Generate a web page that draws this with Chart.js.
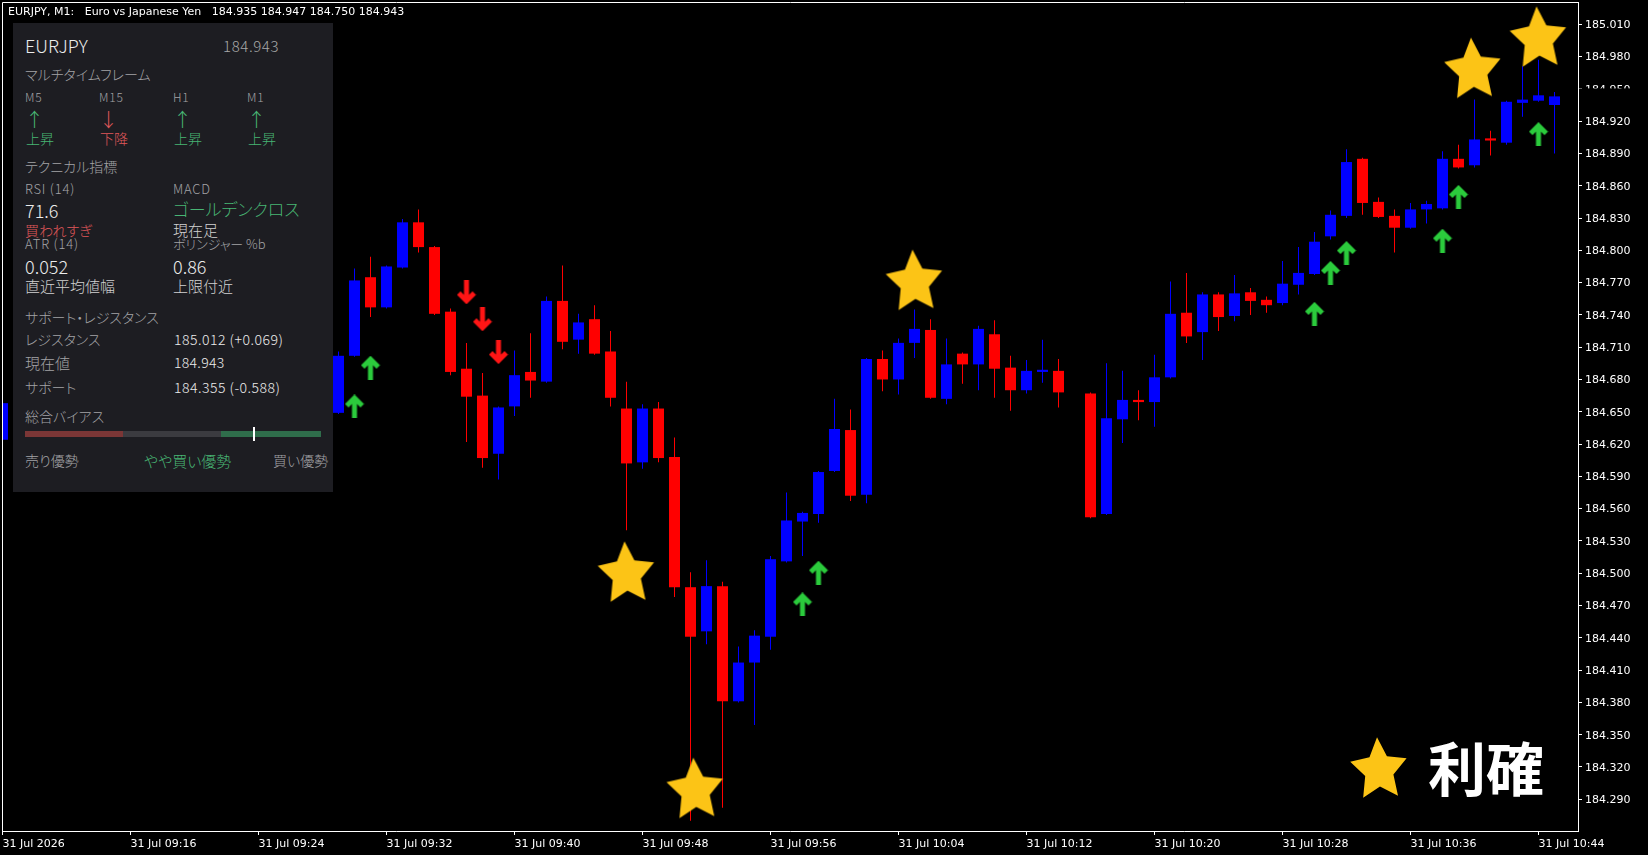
<!DOCTYPE html>
<html>
<head>
<meta charset="utf-8">
<script src="https://cdn.jsdelivr.net/npm/chart.js"></script>
<style>
html,body{margin:0;padding:0;background:#000;overflow:hidden}
#wrap{position:relative;width:1648px;height:855px;background:#000}
#c{position:absolute;left:0;top:0}
#panel{position:absolute;left:13px;top:23px;width:320px;height:469px;background:#1d1d22}
.t{position:absolute;white-space:pre;line-height:1}
.seg{position:absolute}
</style>
</head>
<body>
<div id="wrap">
<canvas id="c" width="1648" height="855"></canvas>
<div id="panel"></div>
<div id="over"></div>
</div>
<script>
// ---------------- data ----------------
const barMinute = [0,
  21,22,23,24,25,26,27,28,29,30,
  31,32,33,34,35,36,37,38,39,40,
  41,42,43,44,45,46,47,48,49,50,
  51,52,53,54,55,56,57,58,59,60,
  61,62,63,64,65,66,68,69,70,71,
  72,73,74,75,76,77,78,79,80,81,
  82,83,84,85,86,87,88,89,90,91,
  92,93,94,95,96,97];
const openP = [184.624,
  184.649,184.702,184.775,184.747,184.784,184.826,184.803,184.743,184.690,184.665,
  184.611,184.655,184.687,184.678,184.753,184.717,184.736,184.706,184.653,184.603,
  184.653,184.608,184.487,184.446,184.488,184.381,184.417,184.441,184.511,184.548,
  184.555,184.595,184.633,184.573,184.699,184.680,184.714,184.726,184.662,184.704,
  184.694,184.722,184.691,184.670,184.687,184.688,184.667,184.555,184.643,184.661,
  184.659,184.682,184.742,184.724,184.759,184.739,184.761,184.754,184.751,184.768,
  184.778,184.813,184.832,184.885,184.845,184.832,184.821,184.838,184.839,184.885,
  184.879,184.904,184.900,184.937,184.939,184.935];
const highP = [184.659,
  184.706,184.783,184.794,184.786,184.829,184.838,184.804,184.746,184.714,184.686,
  184.655,184.707,184.723,184.757,184.786,184.741,184.749,184.725,184.678,184.657,
  184.659,184.626,184.501,184.512,184.492,184.432,184.447,184.516,184.575,184.557,
  184.595,184.662,184.652,184.700,184.707,184.718,184.745,184.736,184.718,184.705,
  184.730,184.735,184.702,184.698,184.717,184.699,184.668,184.695,184.688,184.670,
  184.703,184.771,184.779,184.761,184.761,184.777,184.765,184.757,184.790,184.803,
  184.817,184.837,184.894,184.886,184.849,184.838,184.844,184.846,184.892,184.898,
  184.940,184.911,184.939,184.971,184.977,184.947];
const lowP = [184.623,
  184.648,184.701,184.738,184.746,184.783,184.798,184.740,184.684,184.622,184.598,
  184.587,184.646,184.663,184.677,184.708,184.704,184.703,184.655,184.540,184.597,
  184.603,184.478,184.270,184.434,184.282,184.380,184.359,184.429,184.510,184.516,
  184.547,184.594,184.567,184.565,184.669,184.666,184.700,184.662,184.657,184.676,
  184.670,184.663,184.651,184.667,184.677,184.654,184.551,184.554,184.621,184.642,
  184.636,184.681,184.714,184.698,184.725,184.734,184.740,184.742,184.749,184.759,
  184.777,184.810,184.830,184.833,184.830,184.798,184.820,184.825,184.838,184.876,
  184.877,184.888,184.898,184.924,184.938,184.890];
const closeP = [184.658,
  184.702,184.772,184.747,184.785,184.826,184.803,184.741,184.687,184.664,184.607,
  184.654,184.684,184.679,184.753,184.715,184.733,184.704,184.663,184.602,184.653,
  184.607,184.487,184.441,184.488,184.381,184.417,184.442,184.513,184.549,184.556,
  184.594,184.634,184.572,184.699,184.680,184.714,184.727,184.663,184.694,184.694,
  184.727,184.690,184.670,184.688,184.689,184.668,184.552,184.644,184.661,184.659,
  184.682,184.741,184.720,184.759,184.738,184.760,184.753,184.749,184.769,184.779,
  184.808,184.833,184.882,184.844,184.831,184.821,184.838,184.843,184.885,184.877,
  184.903,184.902,184.938,184.940,184.944,184.943];

const tickMinute = [0,8,16,24,32,40,48,56,64,72,80,88,96];
const tickText = ['31 Jul 2026','31 Jul 09:16','31 Jul 09:24','31 Jul 09:32','31 Jul 09:40',
  '31 Jul 09:48','31 Jul 09:56','31 Jul 10:04','31 Jul 10:12','31 Jul 10:20',
  '31 Jul 10:28','31 Jul 10:36','31 Jul 10:44'];
const priceTicks = [184.290,184.320,184.350,184.380,184.410,184.440,184.470,184.500,184.530,
  184.560,184.590,184.620,184.650,184.680,184.710,184.740,184.770,184.800,184.830,184.860,
  184.890,184.920,184.950,184.980,185.010];

const buyArrowMinute = [22,23,50,51,82,83,84,90,91,96];
const buyArrowPrice  = [184.655,184.691,184.471,184.5005,184.741,184.779,184.7975,184.809,184.8496,184.908];
const sellArrowMinute = [29,30,31];
const sellArrowPrice  = [184.761,184.736,184.7055];
const starMinute = [39,43.3,57,91.9,96];
const starPrice  = [184.502,184.301,184.773,184.970,184.999];

const titleText = 'EURJPY, M1:  Euro vs Japanese Yen  184.935 184.947 184.750 184.943';
const lastPrice = 184.943;

// ---------------- glyph images ----------------
function makeArrow(color, down){
  const c = document.createElement('canvas'); c.width = 20; c.height = 24;
  const g = c.getContext('2d');
  if (down){ g.translate(0,24); g.scale(1,-1); }
  const pts = [[10,0],[19.5,9.5],[16,13],[12.5,9.5],[12.5,24],[7.5,24],[7.5,9.5],[4,13],[0.5,9.5]];
  g.fillStyle = color; g.beginPath();
  pts.forEach((p,i)=> i? g.lineTo(p[0],p[1]) : g.moveTo(p[0],p[1]));
  g.closePath(); g.fill();
  return c;
}
function makeStar(){
  const W = 62, H = 64, R = 33, r = R*0.5;
  const c = document.createElement('canvas'); c.width = W; c.height = H;
  const g = c.getContext('2d');
  const cx = W/2, cy = H/2 + 0.0955*R;
  g.translate(cx, cy); g.rotate(-0.06);
  g.fillStyle = '#fcc416'; g.beginPath();
  for (let k=0;k<10;k++){
    const a = -Math.PI/2 + k*Math.PI/5, rad = k%2 ? r : R;
    const x = Math.cos(a)*rad*0.9, y = Math.sin(a)*rad;
    k ? g.lineTo(x,y) : g.moveTo(x,y);
  }
  g.closePath(); g.fill();
  return c;
}
const upArrowImg = makeArrow('#2bcb3c', false);
const downArrowImg = makeArrow('#ff1515', true);
const starImg = makeStar();

// ---------------- chart ----------------
const candleColor = barMinute.map((m,i)=> closeP[i] >= openP[i] ? '#0000ff' : '#ff0000');
const bodyData = barMinute.map((m,i)=>({x:m, y:[openP[i], closeP[i]]}));
const wickData = barMinute.map((m,i)=>({x:m, y:[lowP[i], highP[i]]}));

const framePlugin = {
  id:'frame',
  afterDraw(chart){
    const {ctx, chartArea:a, scales} = chart;
    ctx.save();
    const yp = scales.y.getPixelForValue(lastPrice);
    ctx.fillStyle = '#000';
    ctx.fillRect(a.right+1, yp-8, 1648-a.right, 17);
    ctx.strokeStyle = '#fff'; ctx.lineWidth = 1;
    ctx.beginPath();
    ctx.moveTo(a.left+0.5, a.bottom+0.5); ctx.lineTo(a.left+0.5, a.top+0.5); ctx.lineTo(a.right+0.5, a.top+0.5);
    ctx.stroke();
    ctx.fillStyle = '#fff'; ctx.font = '11px "DejaVu Sans"'; ctx.textBaseline = 'middle';
    ctx.fillText(titleText.replace(/  /g,'   '), 8, 12);
    ctx.drawImage(starImg, 1379 - starImg.width/2, 767 - starImg.height/2);
    ctx.restore();
  }
};

new Chart(document.getElementById('c'), {
  type:'bar',
  data:{ datasets:[
    {type:'scatter', label:'star', data: starMinute.map((m,i)=>({x:m,y:starPrice[i]})),
      pointStyle: starImg, pointRadius: 10, order:0},
    {type:'scatter', label:'buy', data: buyArrowMinute.map((m,i)=>({x:m,y:buyArrowPrice[i]})),
      pointStyle: upArrowImg, pointRadius: 6, order:1},
    {type:'scatter', label:'sell', data: sellArrowMinute.map((m,i)=>({x:m,y:sellArrowPrice[i]})),
      pointStyle: downArrowImg, pointRadius: 6, order:1},
    {type:'bar', label:'body', data: bodyData, backgroundColor: candleColor, barThickness: 11,
      grouped:false, minBarLength:1, borderWidth:0, inflateAmount:0, order:2},
    {type:'bar', label:'wick', data: wickData, backgroundColor: candleColor, barThickness: 1,
      grouped:false, borderWidth:0, inflateAmount:0, order:3}
  ]},
  options:{
    responsive:false, maintainAspectRatio:false, animation:false, events:[],
    layout:{autoPadding:false, padding:{left:2, top:2, right:0, bottom:0}},
    plugins:{legend:{display:false}, tooltip:{enabled:false}},
    scales:{
      x:{type:'linear', min:-0.03125, max:98.46875, offset:false,
        grid:{display:true, offset:false, drawOnChartArea:false, drawTicks:true, tickLength:4, color:'#fff'},
        border:{display:true, color:'#fff'},
        ticks:{color:'#fff', font:{family:'DejaVu Sans', size:11}, padding:3, align:'start',
          autoSkip:false, maxRotation:0, minRotation:0,
          callback:(v,i)=> tickText[i]},
        afterBuildTicks:s=>{ s.ticks = tickMinute.map(v=>({value:v})); },
        afterFit:s=>{ s.height = 24; s.paddingLeft = 0; s.paddingRight = 0; }
      },
      y:{type:'linear', position:'right', min:184.2605, max:185.0307,
        grid:{display:true, drawOnChartArea:false, drawTicks:true, tickLength:4, color:'#fff'},
        border:{display:true, color:'#fff'},
        ticks:{color:'#fff', font:{family:'DejaVu Sans', size:11}, padding:3, labelOffset:1,
          callback:v=> Number(v).toFixed(3)},
        afterBuildTicks:s=>{ s.ticks = priceTicks.map(v=>({value:v})); },
        afterFit:s=>{ s.width = 70; s.paddingTop = 0; s.paddingBottom = 0; }
      }
    }
  },
  plugins:[framePlugin]
});

// ---------------- info panel (text) ----------------
const over = document.getElementById('over');
const JP = '"Noto Sans CJK JP","Noto Sans",sans-serif';
function txt(s, x, cy, size, color, o={}){
  const e = document.createElement('div');
  e.className = 't'; e.textContent = s;
  e.style.fontFamily = o.fam || JP;
  e.style.fontSize = size+'px';
  e.style.fontWeight = o.w || 300;
  e.style.color = color;
  if (o.ls) e.style.letterSpacing = o.ls+'px';
  if (o.palt !== false) e.style.fontFeatureSettings = '"palt"';
  e.style.top = (cy - (o.k || 0.56)*size)+'px';
  e.style.left = '0px';
  over.appendChild(e);
  let left = x;
  if (o.align === 'right') left = x - e.offsetWidth;
  else if (o.align === 'center') left = x - e.offsetWidth/2;
  e.style.left = left+'px';
  return e;
}
function seg(x,y,w,h,c){
  const e = document.createElement('div'); e.className='seg';
  Object.assign(e.style,{left:x+'px',top:y+'px',width:w+'px',height:h+'px',background:c});
  over.appendChild(e);
}
const GRAY = '#a3a3a6', WHITE = '#ececec', LIGHT = '#d2d2d2', GREEN = '#48b574', RED = '#e0585a';

txt('EURJPY', 25, 45.8, 18, WHITE);
txt('184.943', 223, 46.5, 15, '#a8a8a8', {ls:0.6});
txt('マルチタイムフレーム', 25, 75.3, 14, GRAY);
const tfName = ['M5','M15','H1','M1'];
const tfX = [25, 99, 173, 247];
const tfUp = [true, false, true, true];
tfName.forEach((n,i)=>{
  txt(n, tfX[i], 97.8, 12, GRAY, {ls:0.8});
  txt(tfUp[i] ? '↑' : '↓', tfX[i]+9.5, 120, 19, tfUp[i] ? GREEN : RED, {align:'center', palt:false});
  txt(tfUp[i] ? '上昇' : '下降', tfX[i]+1, 138.7, 14, tfUp[i] ? GREEN : RED);
});
txt('テクニカル指標', 25, 166.7, 14, GRAY);
txt('RSI (14)', 25, 189, 13, GRAY, {ls:0.8});
txt('MACD', 173, 189, 13, GRAY, {ls:0.8});
txt('71.6', 25, 210.8, 18, WHITE);
txt('ゴールデンクロス', 173, 210, 17, GREEN);
txt('買われすぎ', 25, 230.7, 14, RED);
txt('現在足', 173, 230.5, 15, LIGHT);
txt('ATR (14)', 25, 244.5, 13, GRAY, {ls:0.8});
txt('ボリンジャー %b', 173, 244.5, 13, GRAY);
txt('0.052', 25, 267, 18, WHITE);
txt('0.86', 173, 267, 18, WHITE);
txt('直近平均値幅', 25, 286.7, 15, LIGHT);
txt('上限付近', 173, 286.7, 15, LIGHT);
txt('サポート・レジスタンス', 25, 317.5, 14, GRAY);
txt('レジスタンス', 25, 340, 14, GRAY);
txt('185.012 (+0.069)', 174, 340, 14, WHITE, {ls:0.5});
txt('現在値', 25, 363.3, 15, GRAY);
txt('184.943', 174, 363.3, 14, WHITE, {ls:0.3});
txt('サポート', 25, 387.5, 14, GRAY);
txt('184.355 (-0.588)', 174, 387.5, 14, WHITE, {ls:0.5});
txt('総合バイアス', 25, 417.3, 14, GRAY);
seg(25, 431, 98, 6, '#7b3636');
seg(123, 431, 98, 6, '#3b3b40');
seg(221, 431, 100, 6, '#2f6d4b');
seg(253, 427, 2, 14, '#ffffff');
txt('売り優勢', 25, 461.3, 14, GRAY);
txt('やや買い優勢', 144, 461.3, 15, GREEN);
txt('買い優勢', 328, 461.3, 14, GRAY, {align:'right'});

txt('利確', 1428, 769, 58, '#ffffff', {w:700});
</script>
</body>
</html>
